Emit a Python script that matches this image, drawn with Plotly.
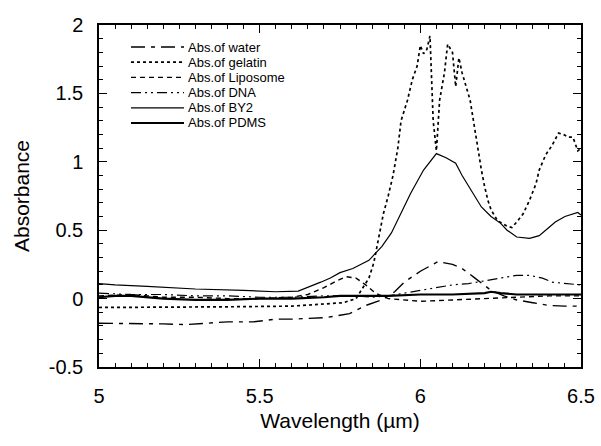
import plotly.graph_objects as go

# ---------------- data ----------------
water_x = [5.0, 5.1, 5.2, 5.27, 5.4, 5.48, 5.52, 5.55, 5.6, 5.7, 5.73, 5.78, 5.83, 5.88, 5.92, 5.95,
           6.0, 6.03, 6.055, 6.1, 6.13, 6.17, 6.22, 6.26, 6.3, 6.35, 6.4, 6.45, 6.5]
water_y = [-0.18, -0.18, -0.185, -0.19, -0.17, -0.17, -0.16, -0.15, -0.15, -0.14, -0.13, -0.11, -0.05,
           -0.01, 0.05, 0.12, 0.2, 0.24, 0.27, 0.25, 0.22, 0.15, 0.06, 0.02, -0.01, -0.03, -0.05, -0.055, -0.055]

gel_x = [5.0, 5.2, 5.4, 5.6, 5.7, 5.76, 5.8, 5.82, 5.84, 5.855, 5.87, 5.885, 5.9, 5.915, 5.93, 5.94,
         5.96, 5.975, 5.99, 6.0, 6.01, 6.02, 6.03, 6.035, 6.04, 6.05, 6.06, 6.075, 6.085, 6.1, 6.11,
         6.12, 6.13, 6.155, 6.17, 6.18, 6.19, 6.2, 6.21, 6.22, 6.24, 6.27, 6.285, 6.3, 6.32, 6.34, 6.36,
         6.37, 6.39, 6.41, 6.43, 6.445, 6.46, 6.475, 6.49, 6.5]
gel_y = [-0.065, -0.065, -0.06, -0.055, -0.04, -0.03, 0.0, 0.08, 0.15, 0.26, 0.45, 0.62, 0.75, 0.9,
         1.1, 1.3, 1.45, 1.6, 1.7, 1.85, 1.79, 1.82, 1.92, 1.6, 1.3, 1.08, 1.45, 1.65, 1.86, 1.8, 1.55,
         1.76, 1.65, 1.45, 1.23, 1.06, 0.94, 0.82, 0.72, 0.65, 0.57, 0.53, 0.52, 0.56, 0.62, 0.72, 0.84,
         0.94, 1.05, 1.12, 1.21, 1.2, 1.18, 1.18, 1.08, 1.1]

lip_x = [5.0, 5.1, 5.2, 5.3, 5.4, 5.5, 5.6, 5.65, 5.7, 5.74, 5.77, 5.8, 5.83, 5.86, 5.9, 5.95, 6.0,
         6.1, 6.2, 6.3, 6.4, 6.5]
lip_y = [0.02, 0.03, 0.01, 0.01, 0.0, 0.0, 0.01, 0.03, 0.08, 0.13, 0.16, 0.15, 0.1, 0.04, 0.0, -0.01,
         -0.02, -0.01, 0.0, 0.01, 0.02, 0.02]

dna_x = [5.0, 5.1, 5.2, 5.3, 5.4, 5.5, 5.6, 5.7, 5.8, 5.85, 5.9, 5.95, 6.0, 6.05, 6.1, 6.15, 6.2,
         6.25, 6.3, 6.34, 6.38, 6.41, 6.45, 6.5]
dna_y = [0.04, 0.03, 0.03, 0.02, 0.02, 0.01, 0.01, 0.02, 0.02, 0.01, 0.02, 0.04, 0.06, 0.085, 0.1,
         0.11, 0.13, 0.15, 0.17, 0.17, 0.15, 0.12, 0.11, 0.1]

by2_x = [5.0, 5.05, 5.15, 5.3, 5.45, 5.55, 5.62, 5.66, 5.69, 5.72, 5.75, 5.79, 5.81, 5.84, 5.86,
         5.88, 5.91, 5.94, 5.97, 6.01, 6.05, 6.08, 6.11, 6.13, 6.16, 6.19, 6.22, 6.25, 6.27, 6.3,
         6.34, 6.37, 6.4, 6.42, 6.45, 6.475, 6.49, 6.5]
by2_y = [0.11, 0.1, 0.09, 0.07, 0.06, 0.05, 0.055, 0.09, 0.12, 0.15, 0.19, 0.22, 0.245, 0.28, 0.33,
         0.38, 0.48, 0.62, 0.77, 0.94, 1.06, 1.03, 0.99, 0.9, 0.79, 0.67, 0.6, 0.55, 0.5, 0.45,
         0.44, 0.46, 0.52, 0.56, 0.6, 0.62, 0.63, 0.61]

pdms_x = [5.0, 5.05, 5.1, 5.2, 5.3, 5.4, 5.5, 5.6, 5.7, 5.75, 5.8, 5.9, 6.0, 6.1, 6.2, 6.22, 6.25,
          6.3, 6.4, 6.5]
pdms_y = [0.01, 0.02, 0.02, 0.0, -0.01, -0.01, 0.0, 0.0, 0.01, 0.02, 0.02, 0.02, 0.03, 0.03, 0.04,
          0.05, 0.04, 0.03, 0.03, 0.03]

series_names = ["Abs.of water", "Abs.of gelatin", "Abs.of Liposome", "Abs.of DNA", "Abs.of BY2", "Abs.of PDMS"]

y_tickvals = [-0.5, 0, 0.5, 1, 1.5, 2]
y_ticktext = ["-0.5", "0", "0.5", "1", "1.5", "2"]
x_tickvals = [5, 5.5, 6, 6.5]
x_ticktext = ["5", "5.5", "6", "6.5"]

# ---------------- styles ----------------
styles = [
    dict(dash="14px,6px,4px,6px", width=1.4),
    dict(dash="3px,3px", width=1.7),
    dict(dash="5px,4px", width=1.4),
    dict(dash="10px,4px,2px,4px,2px,4px", width=1.2),
    dict(dash="solid", width=1.2),
    dict(dash="solid", width=2.2),
]
data = [(water_x, water_y), (gel_x, gel_y), (lip_x, lip_y), (dna_x, dna_y), (by2_x, by2_y), (pdms_x, pdms_y)]

fig = go.Figure()
for (xs, ys), name, st in zip(data, series_names, styles):
    fig.add_trace(go.Scatter(x=xs, y=ys, mode="lines", name=name, showlegend=False,
                             line=dict(color="black", width=st["width"], dash=st["dash"])))

# ---------------- manual legend (top-left inside the plot) ----------------
L, R, T, B = 99, 20, 25, 79
W, H = 601, 446
pw, ph = W - L - R, H - T - B
def px2x(px):
    return (px - L) / pw
def py2y(py):
    return 1 - (py - T) / ph
row0, row_step = 47, 15.2
for i, (name, st) in enumerate(zip(series_names, styles)):
    yy = py2y(row0 + i * row_step)
    fig.add_shape(type="line", xref="paper", yref="paper", x0=px2x(131), x1=px2x(184), y0=yy, y1=yy,
                  line=dict(color="black", width=st["width"], dash=st["dash"]))
    fig.add_annotation(xref="paper", yref="paper", x=px2x(187), y=yy, text=name, showarrow=False,
                       xanchor="left", yanchor="middle", borderpad=0,
                       font=dict(family="Liberation Sans", size=13, color="black"))

axis_common = dict(showline=True, linecolor="black", linewidth=1.5, mirror="allticks",
                   ticks="inside", ticklen=8, tickwidth=1.2, tickcolor="black",
                   showgrid=False, zeroline=False,
                   tickfont=dict(family="Liberation Sans", size=20, color="black"))

fig.update_xaxes(range=[5, 6.5], tickvals=x_tickvals, ticktext=x_ticktext,
                 minor=dict(dtick=0.05, tick0=5, ticks="inside", ticklen=4, tickcolor="black", tickwidth=1),
                 title=dict(text="Wavelength (\u00b5m)", font=dict(family="Liberation Sans", size=21, color="black"),
                            standoff=8),
                 ticklabelstandoff=10, **axis_common)
fig.update_yaxes(range=[-0.5, 2], tickvals=y_tickvals, ticktext=y_ticktext,
                 minor=dict(dtick=0.1, tick0=0, ticks="inside", ticklen=4, tickcolor="black", tickwidth=1),
                 title=dict(text="Absorbance", font=dict(family="Liberation Sans", size=21, color="black"),
                            standoff=13),
                 ticklabelstandoff=10, **axis_common)

fig.update_layout(width=W, height=H, margin=dict(l=L, r=R, t=T, b=B, autoexpand=False),
                  paper_bgcolor="white", plot_bgcolor="white")

fig.write_html("out.html")
